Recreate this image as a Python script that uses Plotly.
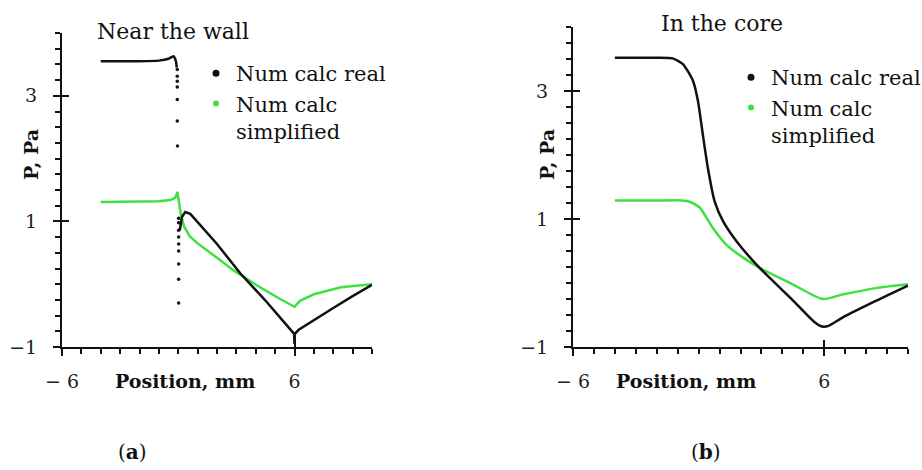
import plotly.graph_objects as go

# ---------------- data ----------------
# (a) Near the wall
a_real_flat_x = [-4.0, -3.0, -2.0, -1.0, -0.5, -0.25, -0.12, -0.08]
a_real_flat_y = [3.55, 3.55, 3.55, 3.56, 3.59, 3.63, 3.55, 3.45]
a_real_drop_x = [-0.05, -0.05, -0.05, -0.05, -0.05, -0.05, -0.04,
                 0.02, 0.02, 0.02, 0.02, 0.02, 0.02, 0.02, 0.02, 0.02]
a_real_drop_y = [3.42, 3.31, 3.23, 3.14, 2.94, 2.60, 2.20,
                 1.05, 0.98, 0.86, 0.75, 0.64, 0.53, 0.32, 0.08, -0.30]
a_real_x = [0.08, 0.19, 0.36, 0.62, 2.0, 3.21, 4.5, 5.98, 6.0, 6.02, 6.2, 7.0, 8.0, 9.0, 10.0]
a_real_y = [0.86, 1.07, 1.15, 1.12, 0.64, 0.17, -0.26, -0.79, -0.95, -0.79, -0.73, -0.57, -0.38, -0.19, -0.01]

a_simp_x = [-4.0, -2.0, -1.0, -0.4, -0.15, -0.04, 0.14, 0.3, 0.6, 1.0, 1.5, 2.0, 2.86,
            4.07, 5.28, 6.0, 6.3, 7.0, 8.4, 10.0]
a_simp_y = [1.31, 1.31, 1.32, 1.34, 1.38, 1.47, 1.10, 0.92, 0.76, 0.65, 0.53, 0.42, 0.22,
            -0.02, -0.24, -0.36, -0.26, -0.16, -0.05, 0.0]

# (b) In the core
b_real_x = [-4.0, -2.0, -1.24, -0.75, -0.27, -0.03, 0.2, 0.44, 0.76, 1.16, 1.79, 2.9,
            4.5, 5.5, 5.9, 6.2, 6.87, 8.46, 10.0]
b_real_y = [3.52, 3.52, 3.51, 3.42, 3.16, 2.84, 2.32, 1.80, 1.28, 0.97, 0.66, 0.24,
            -0.27, -0.6, -0.68, -0.67, -0.54, -0.28, -0.04]
b_simp_x = [-4.0, -2.0, -0.8, -0.43, 0.05, 0.68, 1.32, 2.11, 2.9, 4.49, 5.92, 6.87, 8.46, 10.0]
b_simp_y = [1.29, 1.29, 1.29, 1.27, 1.18, 0.86, 0.60, 0.40, 0.24, -0.02, -0.25, -0.18, -0.08, -0.02]

x_range = [-6, 10]
y_range = [-1, 4]
x_tickvals = [-6, 6]
x_ticktext = ["\u2212 6", "6"]
y_tickvals = [-1, 1, 3]
y_ticktext = ["\u22121", "1", "3"]
series_names = ["Num calc real", "Num calc<br>simplified"]
panel_titles = ["Near the wall", "In the core"]
panel_labels = ["(<b>a</b>)", "(<b>b</b>)"]

BLACK = "#111111"
GREEN = "#3fe03f"
FONT = "DejaVu Serif"
W, H = 922, 470

fig = go.Figure()

# panel a
fig.add_trace(go.Scatter(x=a_real_flat_x, y=a_real_flat_y, mode="lines",
                         line=dict(color=BLACK, width=2.5, shape="spline", smoothing=0.5),
                         showlegend=False, xaxis="x", yaxis="y"))
fig.add_trace(go.Scatter(x=a_real_drop_x, y=a_real_drop_y, mode="markers",
                         marker=dict(color=BLACK, size=3.5),
                         showlegend=False, xaxis="x", yaxis="y"))
fig.add_trace(go.Scatter(x=a_simp_x, y=a_simp_y, mode="lines",
                         line=dict(color=GREEN, width=2.5),
                         showlegend=False, xaxis="x", yaxis="y"))
fig.add_trace(go.Scatter(x=a_real_x, y=a_real_y, mode="lines",
                         line=dict(color=BLACK, width=2.5),
                         showlegend=False, xaxis="x", yaxis="y"))
# panel b
fig.add_trace(go.Scatter(x=b_simp_x, y=b_simp_y, mode="lines",
                         line=dict(color=GREEN, width=2.5, shape="spline", smoothing=0.6),
                         showlegend=False, xaxis="x2", yaxis="y2"))
fig.add_trace(go.Scatter(x=b_real_x, y=b_real_y, mode="lines",
                         line=dict(color=BLACK, width=2.5, shape="spline", smoothing=0.6),
                         showlegend=False, xaxis="x2", yaxis="y2"))

# legend entries (markers only)
for leg, xa, ya in [("legend", "x", "y"), ("legend2", "x2", "y2")]:
    for name, col, sz in [(series_names[0], BLACK, 7), (series_names[1], GREEN, 6)]:
        fig.add_trace(go.Scatter(x=[None], y=[None], mode="markers", name=name,
                                 marker=dict(color=col, size=sz), legend=leg,
                                 xaxis=xa, yaxis=ya))

TICKFONT = dict(family=FONT, size=19, color="#222")

def xax(domain, anchor):
    return dict(domain=domain, anchor=anchor, range=x_range, showline=True, linecolor=BLACK,
                linewidth=2, ticks="outside", ticklen=7, tickwidth=2, tickcolor=BLACK,
                tickvals=x_tickvals, ticktext=x_ticktext, ticklabelstandoff=9,
                tickfont=TICKFONT, automargin=False,
                minor=dict(ticks="outside", ticklen=5, tickwidth=1.5, tickcolor=BLACK,
                           tickmode="linear", tick0=-6, dtick=1),
                showgrid=False, zeroline=False, fixedrange=True)

def yax(domain, anchor):
    return dict(domain=domain, anchor=anchor, range=y_range, showline=True, linecolor=BLACK,
                linewidth=2, ticks="outside", ticklen=7, tickwidth=2, tickcolor=BLACK,
                tickvals=y_tickvals, ticktext=y_ticktext, ticklabelstandoff=12,
                tickfont=TICKFONT, automargin=False,
                minor=dict(ticks="outside", ticklen=5, tickwidth=1.5, tickcolor=BLACK,
                           tickmode="linear", tick0=-1, dtick=0.25),
                showgrid=False, zeroline=False, fixedrange=True)

def over_x(over, anchor):
    return dict(overlaying=over, anchor=anchor, range=x_range, showline=False, ticks="inside",
                ticklen=7, tickwidth=2, tickcolor=BLACK, tickvals=[6], showticklabels=False,
                showgrid=False, zeroline=False, automargin=False, fixedrange=True)

def over_y(over, anchor):
    return dict(overlaying=over, anchor=anchor, range=y_range, showline=False, ticks="inside",
                ticklen=7, tickwidth=2, tickcolor=BLACK, tickvals=y_tickvals, showticklabels=False,
                showgrid=False, zeroline=False, automargin=False, fixedrange=True)

xa_dom = [62 / W, 372 / W]
ya_dom = [(H - 347) / H, (H - 33) / H]
xb_dom = [573 / W, 908 / W]
yb_dom = [(H - 347) / H, (H - 27) / H]

# dummy traces so overlay axes are drawn
fig.add_trace(go.Scatter(x=[None], y=[None], xaxis="x3", yaxis="y3", showlegend=False))
fig.add_trace(go.Scatter(x=[None], y=[None], xaxis="x4", yaxis="y4", showlegend=False))

LEGFONT = dict(family=FONT, size=21, color="#111")
fig.update_layout(
    width=W, height=H, margin=dict(l=0, r=0, t=0, b=0, autoexpand=False),
    paper_bgcolor="white", plot_bgcolor="white",
    xaxis=xax(xa_dom, "y"), yaxis=yax(ya_dom, "x"),
    xaxis2=xax(xb_dom, "y2"), yaxis2=yax(yb_dom, "x2"),
    xaxis3=dict(over_x("x", "y3"), domain=xa_dom), yaxis3=dict(over_y("y", "x3"), domain=ya_dom),
    xaxis4=dict(over_x("x2", "y4"), domain=xb_dom), yaxis4=dict(over_y("y2", "x4"), domain=yb_dom),
    legend=dict(x=196 / W, y=(H - 53) / H, xanchor="left", yanchor="top",
                bgcolor="rgba(0,0,0,0)", font=LEGFONT,
                tracegroupgap=0, valign="top", itemwidth=30),
    legend2=dict(x=731 / W, y=(H - 57) / H, xanchor="left", yanchor="top",
                 bgcolor="rgba(0,0,0,0)", font=LEGFONT,
                 tracegroupgap=0, valign="top", itemwidth=30),
    showlegend=True,
    hovermode=False,
)

annotations = [
    dict(x=173 / W, y=(H - 31) / H, text=panel_titles[0], size=22),
    dict(x=722 / W, y=(H - 23) / H, text=panel_titles[1], size=22),
    dict(x=185 / W, y=(H - 381) / H, text="<b>Position, mm</b>", size=19),
    dict(x=686 / W, y=(H - 381) / H, text="<b>Position, mm</b>", size=19),
    dict(x=132 / W, y=(H - 452) / H, text=panel_labels[0], size=20),
    dict(x=706 / W, y=(H - 452) / H, text=panel_labels[1], size=20),
    dict(x=31 / W, y=(H - 155) / H, text="<b>P, Pa</b>", textangle=-90, size=19),
    dict(x=547 / W, y=(H - 155) / H, text="<b>P, Pa</b>", textangle=-90, size=19),
]
for a in annotations:
    sz = a.pop("size")
    a.update(xref="paper", yref="paper", showarrow=False, xanchor="center", yanchor="middle",
             font=dict(family=FONT, size=sz, color="#111"))
fig.update_layout(annotations=annotations)

fig.write_html("out.html", config={"displayModeBar": False},
               post_script="document.body.style.margin='0';document.body.style.padding='0';")
